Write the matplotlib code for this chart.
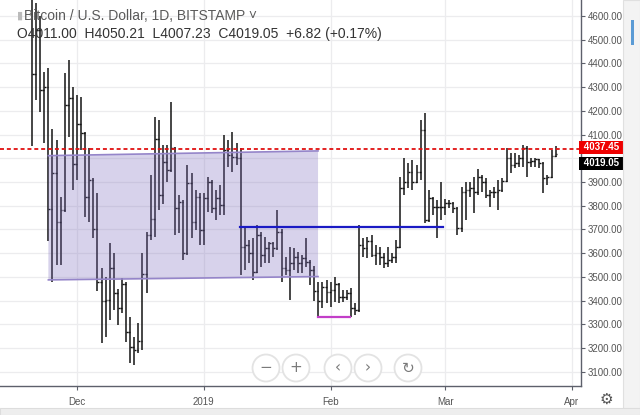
import matplotlib
matplotlib.use("Agg")
import matplotlib.pyplot as plt
import matplotlib.dates as mdates
from matplotlib.patches import Polygon, Circle, Rectangle
import pandas as pd

# daily OHLC, BTC/USD Bitstamp
dates = pd.date_range("2018-11-20", "2019-03-28", freq="D")
opens = [4870, 4355, 4540, 4290, 4300, 3785, 3936, 3733, 3780, 4225, 4253,
         3974, 4145, 4105, 3838, 3908, 3700, 3480, 3400, 3402, 3539, 3430, 3370, 3470,
         3269, 3205, 3191, 3230, 3510, 3676, 3745, 4080, 3845, 3986, 3950, 4042,
         3789, 3817, 3599, 3894, 3733, 3838,
         3697, 3831, 3901, 3789, 3831, 3803, 4035, 4014, 4007, 4000, 3625, 3634,
         3600, 3522, 3676, 3592, 3620, 3641, 3620, 3690, 3536, 3529, 3557, 3585,
         3557, 3578, 3564, 3530, 3440, 3400, 3455,
         3437, 3444, 3470, 3416, 3416, 3430, 3370, 3360, 3634, 3620, 3650, 3592,
         3600, 3585, 3557, 3571, 3585, 3627, 3873, 3901, 3943, 3901, 3943, 4119,
         3740, 3831, 3796, 3796,
         3796, 3810, 3810, 3790, 3704, 3859, 3866, 3873, 3859, 3922, 3901, 3845,
         3859, 3859, 3866, 3905, 4000, 3972, 3979, 4000, 4042, 3986, 3990, 3995,
         3979, 3915, 3920, 4011]
highs = [4960, 4653, 4600, 4364, 4380, 4122, 4077, 3838, 4358, 4414, 4302,
         4267, 4260, 4110, 4042, 3915, 3852, 3536, 3501, 3641, 3599, 3450, 3494, 3480,
         3332, 3248, 3304, 3599, 3690, 3929, 4175, 4161, 4056, 4056, 4239, 4049,
         3845, 3825, 3972, 3936, 3866, 3852,
         3852, 3922, 3908, 3866, 3887, 4098, 4077, 4112, 4063, 4042, 3704, 3655,
         3662, 3718, 3690, 3669, 3648, 3648, 3782, 3700, 3585, 3627, 3620, 3606,
         3592, 3662, 3571, 3545, 3480, 3480, 3487,
         3480, 3500, 3475, 3445, 3444, 3451, 3390, 3718, 3662, 3669, 3676, 3634,
         3627, 3599, 3627, 3599, 3655, 3922, 4000, 3979, 3993, 3972, 4161, 4189,
         3866, 3838, 3824, 3901,
         3830, 3824, 3817, 3796, 3880, 3901, 3901, 3920, 3953, 3930, 3915, 3866,
         3880, 3908, 3915, 4042, 4021, 4021, 4014, 4056, 4050, 4000, 4000, 3998,
         3985, 3929, 4035, 4050.21]
lows = [4052, 4246, 4195, 4064, 3650, 3480, 3550, 3550, 3775, 4091, 3866,
        3908, 4035, 3754, 3733, 3662, 3440, 3219, 3248, 3318, 3360, 3297, 3346, 3226,
        3135, 3128, 3177, 3191, 3430, 3655, 3669, 3782, 3808, 3901, 3940, 3676,
        3683, 3571, 3590, 3662, 3697, 3634,
        3634, 3775, 3768, 3740, 3761, 3761, 3964, 3943, 3970, 3508, 3529, 3557,
        3487, 3515, 3543, 3557, 3560, 3585, 3613, 3480, 3508, 3402, 3529, 3515,
        3515, 3543, 3465, 3400, 3331, 3367, 3388,
        3374, 3395, 3390, 3395, 3402, 3331, 3340, 3350, 3585, 3578, 3585, 3550,
        3550, 3536, 3543, 3557, 3557, 3620, 3845, 3873, 3866, 3894, 3908, 3726,
        3733, 3761, 3662, 3740,
        3761, 3789, 3768, 3676, 3690, 3740, 3838, 3768, 3845, 3859, 3831, 3796,
        3831, 3782, 3859, 3901, 3936, 3958, 3964, 3964, 3922, 3964, 3964, 3958,
        3852, 3887, 3915, 4007.23]
closes = [4355, 4540, 4290, 4300, 3785, 3936, 3733, 3780, 4225, 4253, 3974,
          4145, 4105, 3838, 3908, 3700, 3480, 3400, 3402, 3539, 3430, 3370, 3470, 3269,
          3205, 3191, 3230, 3510, 3676, 3745, 4080, 3845, 3986, 3950, 4042, 3789,
          3817, 3599, 3894, 3733, 3838, 3697,
          3831, 3901, 3789, 3831, 3803, 4035, 4014, 4007, 4000, 3625, 3634, 3600,
          3522, 3676, 3592, 3620, 3641, 3620, 3690, 3536, 3529, 3557, 3585, 3557,
          3578, 3564, 3530, 3440, 3400, 3455, 3437,
          3444, 3470, 3416, 3416, 3430, 3370, 3360, 3634, 3620, 3650, 3592, 3600,
          3585, 3557, 3571, 3585, 3627, 3873, 3901, 3943, 3901, 3943, 4119, 3740,
          3831, 3796, 3796, 3796,
          3810, 3810, 3790, 3704, 3859, 3866, 3873, 3859, 3922, 3901, 3845, 3859,
          3859, 3866, 3905, 4000, 3972, 3979, 4000, 4042, 3986, 3990, 3995, 3979,
          3915, 3920, 4011, 4019.05]

# drawings on the chart
channel_dates = ["2018-11-24 00:00", "2019-01-28 22:00"]
channel_top = [4011, 4031]
channel_bottom = [3487, 3501]
blue_dates = ["2019-01-09 20:00", "2019-02-28 12:00"]
blue_level = 3709
magenta_dates = ["2019-01-28 22:00", "2019-02-05 16:00"]
magenta_level = 3331
red_level = 4037.45
last_close = 4019.05

price_ticks = list(range(3100, 4700, 100))
month_ticks = ["2018-12-01", "2019-01-01", "2019-02-01", "2019-03-01", "2019-04-01"]
month_labels = ["Dec", "2019", "Feb", "Mar", "Apr"]

plt.rcParams["font.family"] = ["Liberation Sans", "DejaVu Sans"]

fig = plt.figure(figsize=(6.4, 4.15), dpi=100)
ax = fig.add_axes([0, 29 / 415, 581 / 640, 386 / 415])

x = mdates.date2num(dates)
dec1 = mdates.date2num(pd.Timestamp("2018-12-01"))
ax.set_xlim(dec1 - 77 / 4.091, dec1 + 504 / 4.091)
ax.set_ylim(3039.5, 4667.5)

# grid; the 4000 label sits under the price flags, as on the screen
ax.set_yticks(price_ticks)
ax.set_yticklabels(["" if p == 4000 else f"{p:.2f}" for p in price_ticks])
ax.set_xticks(mdates.date2num(pd.to_datetime(month_ticks)))
ax.set_xticklabels(month_labels)
ax.grid(True, color="#ececee", lw=0.9, zorder=0)
ax.set_axisbelow(True)

# OHLC bars
n = min(len(dates), len(opens), len(highs), len(lows), len(closes))
x = x[:n]
bar_col = "#141414"
ax.vlines(x, lows[:n], highs[:n], color=bar_col, lw=1.1, zorder=2)
ax.hlines(opens[:n], x - 0.45, x, color=bar_col, lw=1.0, zorder=2)
ax.hlines(closes[:n], x, x + 0.45, color=bar_col, lw=1.0, zorder=2)

# parallel channel
cx = mdates.date2num(pd.to_datetime(channel_dates))
poly = Polygon([(cx[0], channel_bottom[0]), (cx[1], channel_bottom[1]),
                (cx[1], channel_top[1]), (cx[0], channel_top[0])],
               closed=True, facecolor="#7c6bbd", alpha=0.3, edgecolor="none", zorder=3)
ax.add_patch(poly)
ax.plot(cx, channel_top, color="#9585c9", lw=1.2, zorder=4)
ax.plot(cx, channel_bottom, color="#9585c9", lw=1.2, zorder=4)

bx = mdates.date2num(pd.to_datetime(blue_dates))
ax.plot(bx, [blue_level, blue_level], color="#1a1ac4", lw=1.6, zorder=4)
mx = mdates.date2num(pd.to_datetime(magenta_dates))
ax.plot(mx, [magenta_level, magenta_level], color="#c23ec8", lw=1.6, zorder=4)

ax.axhline(red_level, color="#e01010", lw=1.3, ls=(0, (2.2, 1.6)), zorder=5)

# axes styling
for side in ["top", "left"]:
    ax.spines[side].set_visible(False)
for side in ["right", "bottom"]:
    ax.spines[side].set_color("#5d606b")
    ax.spines[side].set_linewidth(1.0)
ax.yaxis.tick_right()
ax.tick_params(axis="y", direction="out", length=3, width=0.8, color="#5d606b",
               labelsize=7, labelcolor="#555555", pad=2)
ax.tick_params(axis="x", direction="out", length=3, width=0.8, color="#5d606b",
               labelsize=7, labelcolor="#555555", pad=5)

# price labels on the scale
ax.text(1.0, red_level + 8, " 4037.45 ", transform=ax.get_yaxis_transform(), ha="left",
        va="center", color="white", fontsize=7, fontweight="bold", zorder=10,
        bbox=dict(boxstyle="square,pad=0.2", fc="#ee0000", ec="none"), clip_on=False)
ax.text(1.0, 3978, " 4019.05 ", transform=ax.get_yaxis_transform(), ha="left",
        va="center", color="white", fontsize=7, fontweight="bold", zorder=10,
        bbox=dict(boxstyle="square,pad=0.2", fc="#000000", ec="none"), clip_on=False)

# header
fig.text(17 / 640, 1 - 16 / 415, "\u25ae", fontsize=8, color="#bbbbbb", va="center")
fig.text(24 / 640, 1 - 16 / 415, "Bitcoin / U.S. Dollar, 1D, BITSTAMP \u02c5",
         fontsize=10, color="#5a5a5a", va="center")
fig.text(17 / 640, 1 - 34 / 415,
         "O4011.00  H4050.21  L4007.23  C4019.05  +6.82 (+0.17%)",
         fontsize=10, color="#333333", va="center")

# chart navigation buttons and side panel, in pixel units
px = fig.dpi_scale_trans
for cxp, sym in [(266, "\u2212"), (296, "+"), (338, "\u2039"), (368, "\u203a"), (408, "\u21bb")]:
    fig.patches.append(Circle((cxp / 100, (415 - 368) / 100), 0.135, transform=px,
                              facecolor="white", edgecolor="#e3e3e3", lw=1.3, zorder=20))
    fig.text(cxp / 640, 1 - 368 / 415, sym, ha="center", va="center", fontsize=11,
             color="#7a7a7a", zorder=21, family="DejaVu Sans")

fig.patches.append(Rectangle((6.23, 0), 0.17, 4.15, transform=px, facecolor="#f3f3f3",
                             edgecolor="#e0e0e0", lw=0.8, zorder=1))
fig.patches.append(Rectangle((6.31, 3.70), 0.025, 0.25, transform=px, facecolor="#5b9bd5",
                             edgecolor="none", zorder=2))
fig.patches.append(Rectangle((0, 0), 6.4, 0.07, transform=px, facecolor="#eeeeee",
                             edgecolor="#dddddd", lw=0.8, zorder=1))
fig.text(606 / 640, 1 - 399 / 415, "\u2699", ha="center", va="center", fontsize=11,
         color="#555555", family="DejaVu Sans")

fig.savefig("out.png", dpi=100)
plt.close(fig)
